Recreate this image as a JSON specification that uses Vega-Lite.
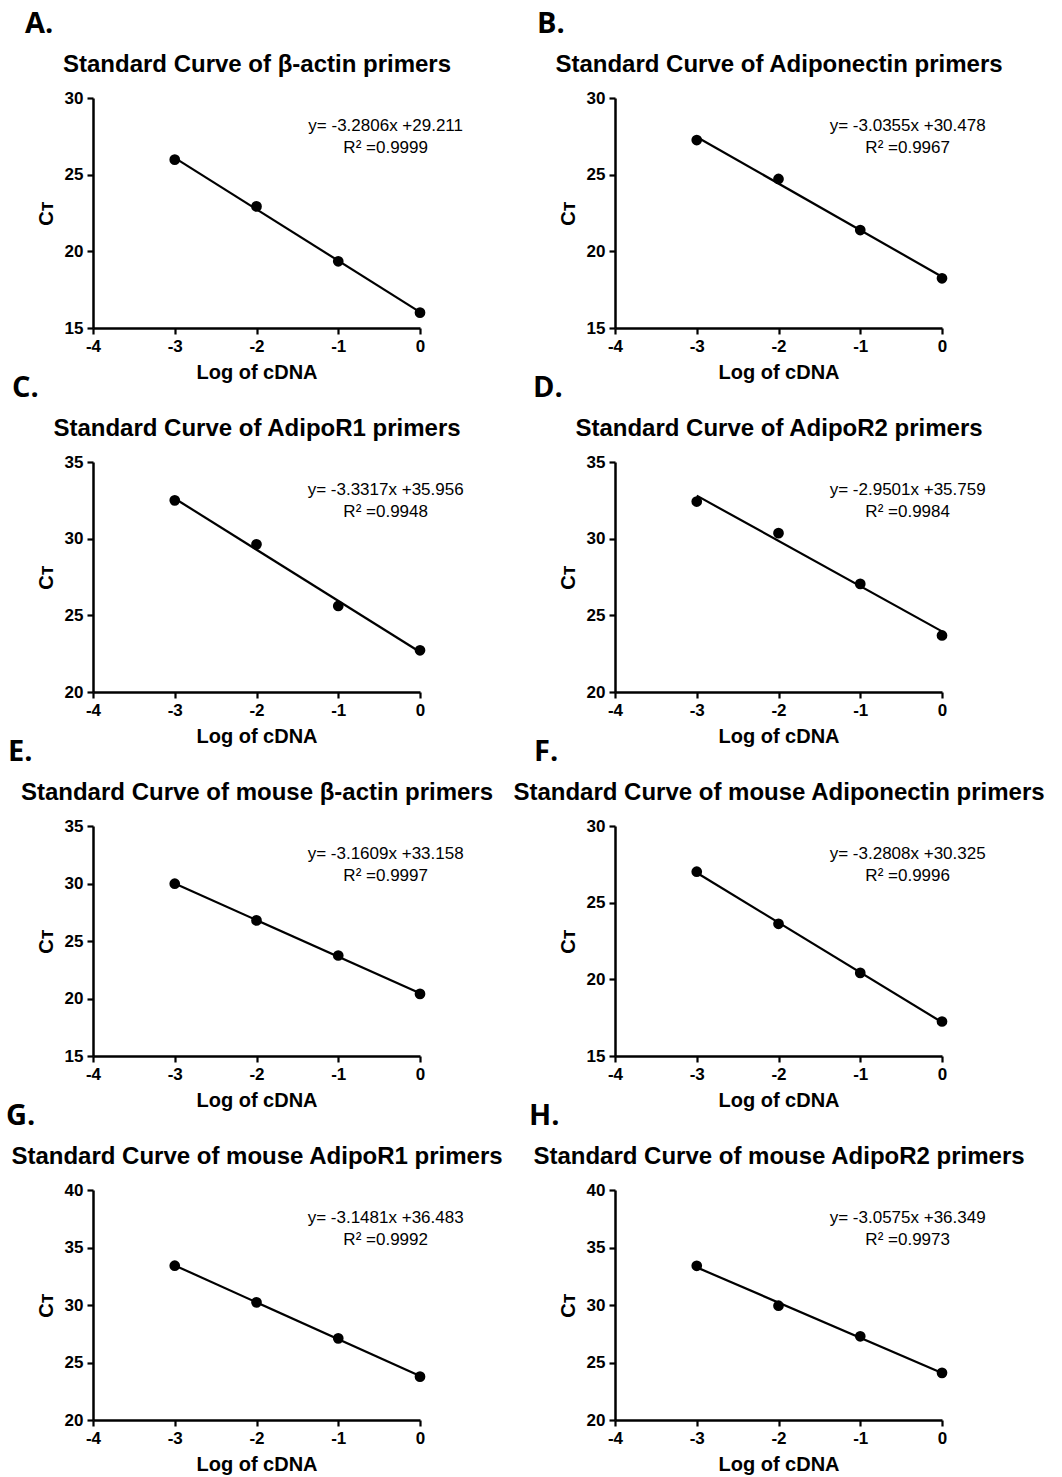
{
  "$schema": "https://vega.github.io/schema/vega-lite/v6.json",
  "background": "white",
  "padding": {"left": 6, "top": 10, "right": 5, "bottom": 5},
  "datasets": {
    "pts": [
      {"panel": "A", "log": -3, "ct": 25.98}, {"panel": "A", "log": -2, "ct": 22.93}, {"panel": "A", "log": -1, "ct": 19.35}, {"panel": "A", "log": 0, "ct": 16.0},
      {"panel": "B", "log": -3, "ct": 27.26}, {"panel": "B", "log": -2, "ct": 24.72}, {"panel": "B", "log": -1, "ct": 21.39}, {"panel": "B", "log": 0, "ct": 18.24},
      {"panel": "C", "log": -3, "ct": 32.5}, {"panel": "C", "log": -2, "ct": 29.63}, {"panel": "C", "log": -1, "ct": 25.61}, {"panel": "C", "log": 0, "ct": 22.72},
      {"panel": "D", "log": -3, "ct": 32.42}, {"panel": "D", "log": -2, "ct": 30.36}, {"panel": "D", "log": -1, "ct": 27.05}, {"panel": "D", "log": 0, "ct": 23.69},
      {"panel": "E", "log": -3, "ct": 29.98}, {"panel": "E", "log": -2, "ct": 26.79}, {"panel": "E", "log": -1, "ct": 23.74}, {"panel": "E", "log": 0, "ct": 20.4},
      {"panel": "F", "log": -3, "ct": 27.02}, {"panel": "F", "log": -2, "ct": 23.62}, {"panel": "F", "log": -1, "ct": 20.42}, {"panel": "F", "log": 0, "ct": 17.25},
      {"panel": "G", "log": -3, "ct": 33.42}, {"panel": "G", "log": -2, "ct": 30.23}, {"panel": "G", "log": -1, "ct": 27.1}, {"panel": "G", "log": 0, "ct": 23.77},
      {"panel": "H", "log": -3, "ct": 33.41}, {"panel": "H", "log": -2, "ct": 29.94}, {"panel": "H", "log": -1, "ct": 27.28}, {"panel": "H", "log": 0, "ct": 24.1}
    ],
    "eqs": [
      {"panel": "A", "label": "y= -3.2806x +29.211\nR² =0.9999"},
      {"panel": "B", "label": "y= -3.0355x +30.478\nR² =0.9967"},
      {"panel": "C", "label": "y= -3.3317x +35.956\nR² =0.9948"},
      {"panel": "D", "label": "y= -2.9501x +35.759\nR² =0.9984"},
      {"panel": "E", "label": "y= -3.1609x +33.158\nR² =0.9997"},
      {"panel": "F", "label": "y= -3.2808x +30.325\nR² =0.9996"},
      {"panel": "G", "label": "y= -3.1481x +36.483\nR² =0.9992"},
      {"panel": "H", "label": "y= -3.0575x +36.349\nR² =0.9973"}
    ]
  },
  "config": {
    "font": "Liberation Sans",
    "view": {"stroke": null},
    "axis": {
      "grid": false,
      "domainColor": "black", "domainWidth": 2.5,
      "tickColor": "black", "tickWidth": 2.2, "tickSize": 6,
      "labelFont": "Liberation Sans", "labelFontWeight": "bold", "labelFontSize": 17, "labelColor": "black", "labelPadding": 4, "labelFlush": false,
      "labelExpr": "'' + datum.value",
      "titleFont": "Liberation Sans", "titleFontWeight": "bold", "titleFontSize": 20, "titleColor": "black"
    },
    "axisBottom": {"titlePadding": 8},
    "axisLeft": {"titlePadding": 8},
    "axisTop": {"domain": false, "ticks": false, "labels": false, "titleFontSize": 24, "titlePadding": 22},
    "title": {"font": "Open Sans", "fontSize": 29, "fontWeight": "bold", "color": "black", "anchor": "start", "frame": "group", "offset": 13}
  },
  "columns": 2,
  "bounds": "flush",
  "spacing": {"column": 195, "row": 134},
  "concat": [
    {
      "title": {"text": "A.", "dx": -68},
      "width": 327, "height": 230,
      "resolve": {"axis": {"x": "independent"}},
      "layer": [
        {"data": {"name": "pts"}, "transform": [{"filter": "datum.panel === 'A'"}, {"regression": "ct", "on": "log"}],
         "mark": {"type": "line", "color": "black", "strokeWidth": 2.2},
         "encoding": {
           "x": {"field": "log", "type": "quantitative", "scale": {"domain": [-4, 0], "nice": false, "zero": false}, "axis": {"orient": "bottom", "values": [-4, -3, -2, -1, 0], "title": "Log of cDNA"}},
           "y": {"field": "ct", "type": "quantitative", "scale": {"domain": [15, 30], "nice": false, "zero": false}, "axis": {"values": [15, 20, 25, 30], "title": "Cᴛ"}}}},
        {"data": {"name": "pts"}, "transform": [{"filter": "datum.panel === 'A'"}],
         "mark": {"type": "circle", "color": "black", "size": 115, "opacity": 1},
         "encoding": {"x": {"field": "log", "type": "quantitative", "axis": {"orient": "top", "title": "Standard Curve of β-actin primers"}}, "y": {"field": "ct", "type": "quantitative"}}},
        {"data": {"name": "eqs"}, "transform": [{"filter": "datum.panel === 'A'"}],
         "mark": {"type": "text", "align": "center", "baseline": "alphabetic", "fontSize": 17, "lineHeight": 22.5, "lineBreak": "\n", "color": "black"},
         "encoding": {"x": {"datum": -0.42, "axis": null}, "y": {"datum": 27.87}, "text": {"field": "label"}}}
      ]
    },
    {
      "title": {"text": "B.", "dx": -78},
      "width": 327, "height": 230,
      "resolve": {"axis": {"x": "independent"}},
      "layer": [
        {"data": {"name": "pts"}, "transform": [{"filter": "datum.panel === 'B'"}, {"regression": "ct", "on": "log"}],
         "mark": {"type": "line", "color": "black", "strokeWidth": 2.2},
         "encoding": {
           "x": {"field": "log", "type": "quantitative", "scale": {"domain": [-4, 0], "nice": false, "zero": false}, "axis": {"orient": "bottom", "values": [-4, -3, -2, -1, 0], "title": "Log of cDNA"}},
           "y": {"field": "ct", "type": "quantitative", "scale": {"domain": [15, 30], "nice": false, "zero": false}, "axis": {"values": [15, 20, 25, 30], "title": "Cᴛ"}}}},
        {"data": {"name": "pts"}, "transform": [{"filter": "datum.panel === 'B'"}],
         "mark": {"type": "circle", "color": "black", "size": 115, "opacity": 1},
         "encoding": {"x": {"field": "log", "type": "quantitative", "axis": {"orient": "top", "title": "Standard Curve of Adiponectin primers"}}, "y": {"field": "ct", "type": "quantitative"}}},
        {"data": {"name": "eqs"}, "transform": [{"filter": "datum.panel === 'B'"}],
         "mark": {"type": "text", "align": "center", "baseline": "alphabetic", "fontSize": 17, "lineHeight": 22.5, "lineBreak": "\n", "color": "black"},
         "encoding": {"x": {"datum": -0.42, "axis": null}, "y": {"datum": 27.87}, "text": {"field": "label"}}}
      ]
    },
    {
      "title": {"text": "C.", "dx": -81},
      "width": 327, "height": 230,
      "resolve": {"axis": {"x": "independent"}},
      "layer": [
        {"data": {"name": "pts"}, "transform": [{"filter": "datum.panel === 'C'"}, {"regression": "ct", "on": "log"}],
         "mark": {"type": "line", "color": "black", "strokeWidth": 2.2},
         "encoding": {
           "x": {"field": "log", "type": "quantitative", "scale": {"domain": [-4, 0], "nice": false, "zero": false}, "axis": {"orient": "bottom", "values": [-4, -3, -2, -1, 0], "title": "Log of cDNA"}},
           "y": {"field": "ct", "type": "quantitative", "scale": {"domain": [20, 35], "nice": false, "zero": false}, "axis": {"values": [20, 25, 30, 35], "title": "Cᴛ"}}}},
        {"data": {"name": "pts"}, "transform": [{"filter": "datum.panel === 'C'"}],
         "mark": {"type": "circle", "color": "black", "size": 115, "opacity": 1},
         "encoding": {"x": {"field": "log", "type": "quantitative", "axis": {"orient": "top", "title": "Standard Curve of AdipoR1 primers"}}, "y": {"field": "ct", "type": "quantitative"}}},
        {"data": {"name": "eqs"}, "transform": [{"filter": "datum.panel === 'C'"}],
         "mark": {"type": "text", "align": "center", "baseline": "alphabetic", "fontSize": 17, "lineHeight": 22.5, "lineBreak": "\n", "color": "black"},
         "encoding": {"x": {"datum": -0.42, "axis": null}, "y": {"datum": 32.87}, "text": {"field": "label"}}}
      ]
    },
    {
      "title": {"text": "D.", "dx": -82},
      "width": 327, "height": 230,
      "resolve": {"axis": {"x": "independent"}},
      "layer": [
        {"data": {"name": "pts"}, "transform": [{"filter": "datum.panel === 'D'"}, {"regression": "ct", "on": "log"}],
         "mark": {"type": "line", "color": "black", "strokeWidth": 2.2},
         "encoding": {
           "x": {"field": "log", "type": "quantitative", "scale": {"domain": [-4, 0], "nice": false, "zero": false}, "axis": {"orient": "bottom", "values": [-4, -3, -2, -1, 0], "title": "Log of cDNA"}},
           "y": {"field": "ct", "type": "quantitative", "scale": {"domain": [20, 35], "nice": false, "zero": false}, "axis": {"values": [20, 25, 30, 35], "title": "Cᴛ"}}}},
        {"data": {"name": "pts"}, "transform": [{"filter": "datum.panel === 'D'"}],
         "mark": {"type": "circle", "color": "black", "size": 115, "opacity": 1},
         "encoding": {"x": {"field": "log", "type": "quantitative", "axis": {"orient": "top", "title": "Standard Curve of AdipoR2 primers"}}, "y": {"field": "ct", "type": "quantitative"}}},
        {"data": {"name": "eqs"}, "transform": [{"filter": "datum.panel === 'D'"}],
         "mark": {"type": "text", "align": "center", "baseline": "alphabetic", "fontSize": 17, "lineHeight": 22.5, "lineBreak": "\n", "color": "black"},
         "encoding": {"x": {"datum": -0.42, "axis": null}, "y": {"datum": 32.87}, "text": {"field": "label"}}}
      ]
    },
    {
      "title": {"text": "E.", "dx": -85},
      "width": 327, "height": 230,
      "resolve": {"axis": {"x": "independent"}},
      "layer": [
        {"data": {"name": "pts"}, "transform": [{"filter": "datum.panel === 'E'"}, {"regression": "ct", "on": "log"}],
         "mark": {"type": "line", "color": "black", "strokeWidth": 2.2},
         "encoding": {
           "x": {"field": "log", "type": "quantitative", "scale": {"domain": [-4, 0], "nice": false, "zero": false}, "axis": {"orient": "bottom", "values": [-4, -3, -2, -1, 0], "title": "Log of cDNA"}},
           "y": {"field": "ct", "type": "quantitative", "scale": {"domain": [15, 35], "nice": false, "zero": false}, "axis": {"values": [15, 20, 25, 30, 35], "title": "Cᴛ"}}}},
        {"data": {"name": "pts"}, "transform": [{"filter": "datum.panel === 'E'"}],
         "mark": {"type": "circle", "color": "black", "size": 115, "opacity": 1},
         "encoding": {"x": {"field": "log", "type": "quantitative", "axis": {"orient": "top", "title": "Standard Curve of mouse β-actin primers"}}, "y": {"field": "ct", "type": "quantitative"}}},
        {"data": {"name": "eqs"}, "transform": [{"filter": "datum.panel === 'E'"}],
         "mark": {"type": "text", "align": "center", "baseline": "alphabetic", "fontSize": 17, "lineHeight": 22.5, "lineBreak": "\n", "color": "black"},
         "encoding": {"x": {"datum": -0.42, "axis": null}, "y": {"datum": 32.16}, "text": {"field": "label"}}}
      ]
    },
    {
      "title": {"text": "F.", "dx": -81},
      "width": 327, "height": 230,
      "resolve": {"axis": {"x": "independent"}},
      "layer": [
        {"data": {"name": "pts"}, "transform": [{"filter": "datum.panel === 'F'"}, {"regression": "ct", "on": "log"}],
         "mark": {"type": "line", "color": "black", "strokeWidth": 2.2},
         "encoding": {
           "x": {"field": "log", "type": "quantitative", "scale": {"domain": [-4, 0], "nice": false, "zero": false}, "axis": {"orient": "bottom", "values": [-4, -3, -2, -1, 0], "title": "Log of cDNA"}},
           "y": {"field": "ct", "type": "quantitative", "scale": {"domain": [15, 30], "nice": false, "zero": false}, "axis": {"values": [15, 20, 25, 30], "title": "Cᴛ"}}}},
        {"data": {"name": "pts"}, "transform": [{"filter": "datum.panel === 'F'"}],
         "mark": {"type": "circle", "color": "black", "size": 115, "opacity": 1},
         "encoding": {"x": {"field": "log", "type": "quantitative", "axis": {"orient": "top", "title": "Standard Curve of mouse Adiponectin primers"}}, "y": {"field": "ct", "type": "quantitative"}}},
        {"data": {"name": "eqs"}, "transform": [{"filter": "datum.panel === 'F'"}],
         "mark": {"type": "text", "align": "center", "baseline": "alphabetic", "fontSize": 17, "lineHeight": 22.5, "lineBreak": "\n", "color": "black"},
         "encoding": {"x": {"datum": -0.42, "axis": null}, "y": {"datum": 27.87}, "text": {"field": "label"}}}
      ]
    },
    {
      "title": {"text": "G.", "dx": -87},
      "width": 327, "height": 230,
      "resolve": {"axis": {"x": "independent"}},
      "layer": [
        {"data": {"name": "pts"}, "transform": [{"filter": "datum.panel === 'G'"}, {"regression": "ct", "on": "log"}],
         "mark": {"type": "line", "color": "black", "strokeWidth": 2.2},
         "encoding": {
           "x": {"field": "log", "type": "quantitative", "scale": {"domain": [-4, 0], "nice": false, "zero": false}, "axis": {"orient": "bottom", "values": [-4, -3, -2, -1, 0], "title": "Log of cDNA"}},
           "y": {"field": "ct", "type": "quantitative", "scale": {"domain": [20, 40], "nice": false, "zero": false}, "axis": {"values": [20, 25, 30, 35, 40], "title": "Cᴛ"}}}},
        {"data": {"name": "pts"}, "transform": [{"filter": "datum.panel === 'G'"}],
         "mark": {"type": "circle", "color": "black", "size": 115, "opacity": 1},
         "encoding": {"x": {"field": "log", "type": "quantitative", "axis": {"orient": "top", "title": "Standard Curve of mouse AdipoR1 primers"}}, "y": {"field": "ct", "type": "quantitative"}}},
        {"data": {"name": "eqs"}, "transform": [{"filter": "datum.panel === 'G'"}],
         "mark": {"type": "text", "align": "center", "baseline": "alphabetic", "fontSize": 17, "lineHeight": 22.5, "lineBreak": "\n", "color": "black"},
         "encoding": {"x": {"datum": -0.42, "axis": null}, "y": {"datum": 37.16}, "text": {"field": "label"}}}
      ]
    },
    {
      "title": {"text": "H.", "dx": -86},
      "width": 327, "height": 230,
      "resolve": {"axis": {"x": "independent"}},
      "layer": [
        {"data": {"name": "pts"}, "transform": [{"filter": "datum.panel === 'H'"}, {"regression": "ct", "on": "log"}],
         "mark": {"type": "line", "color": "black", "strokeWidth": 2.2},
         "encoding": {
           "x": {"field": "log", "type": "quantitative", "scale": {"domain": [-4, 0], "nice": false, "zero": false}, "axis": {"orient": "bottom", "values": [-4, -3, -2, -1, 0], "title": "Log of cDNA"}},
           "y": {"field": "ct", "type": "quantitative", "scale": {"domain": [20, 40], "nice": false, "zero": false}, "axis": {"values": [20, 25, 30, 35, 40], "title": "Cᴛ"}}}},
        {"data": {"name": "pts"}, "transform": [{"filter": "datum.panel === 'H'"}],
         "mark": {"type": "circle", "color": "black", "size": 115, "opacity": 1},
         "encoding": {"x": {"field": "log", "type": "quantitative", "axis": {"orient": "top", "title": "Standard Curve of mouse AdipoR2 primers"}}, "y": {"field": "ct", "type": "quantitative"}}},
        {"data": {"name": "eqs"}, "transform": [{"filter": "datum.panel === 'H'"}],
         "mark": {"type": "text", "align": "center", "baseline": "alphabetic", "fontSize": 17, "lineHeight": 22.5, "lineBreak": "\n", "color": "black"},
         "encoding": {"x": {"datum": -0.42, "axis": null}, "y": {"datum": 37.16}, "text": {"field": "label"}}}
      ]
    }
  ]
}
